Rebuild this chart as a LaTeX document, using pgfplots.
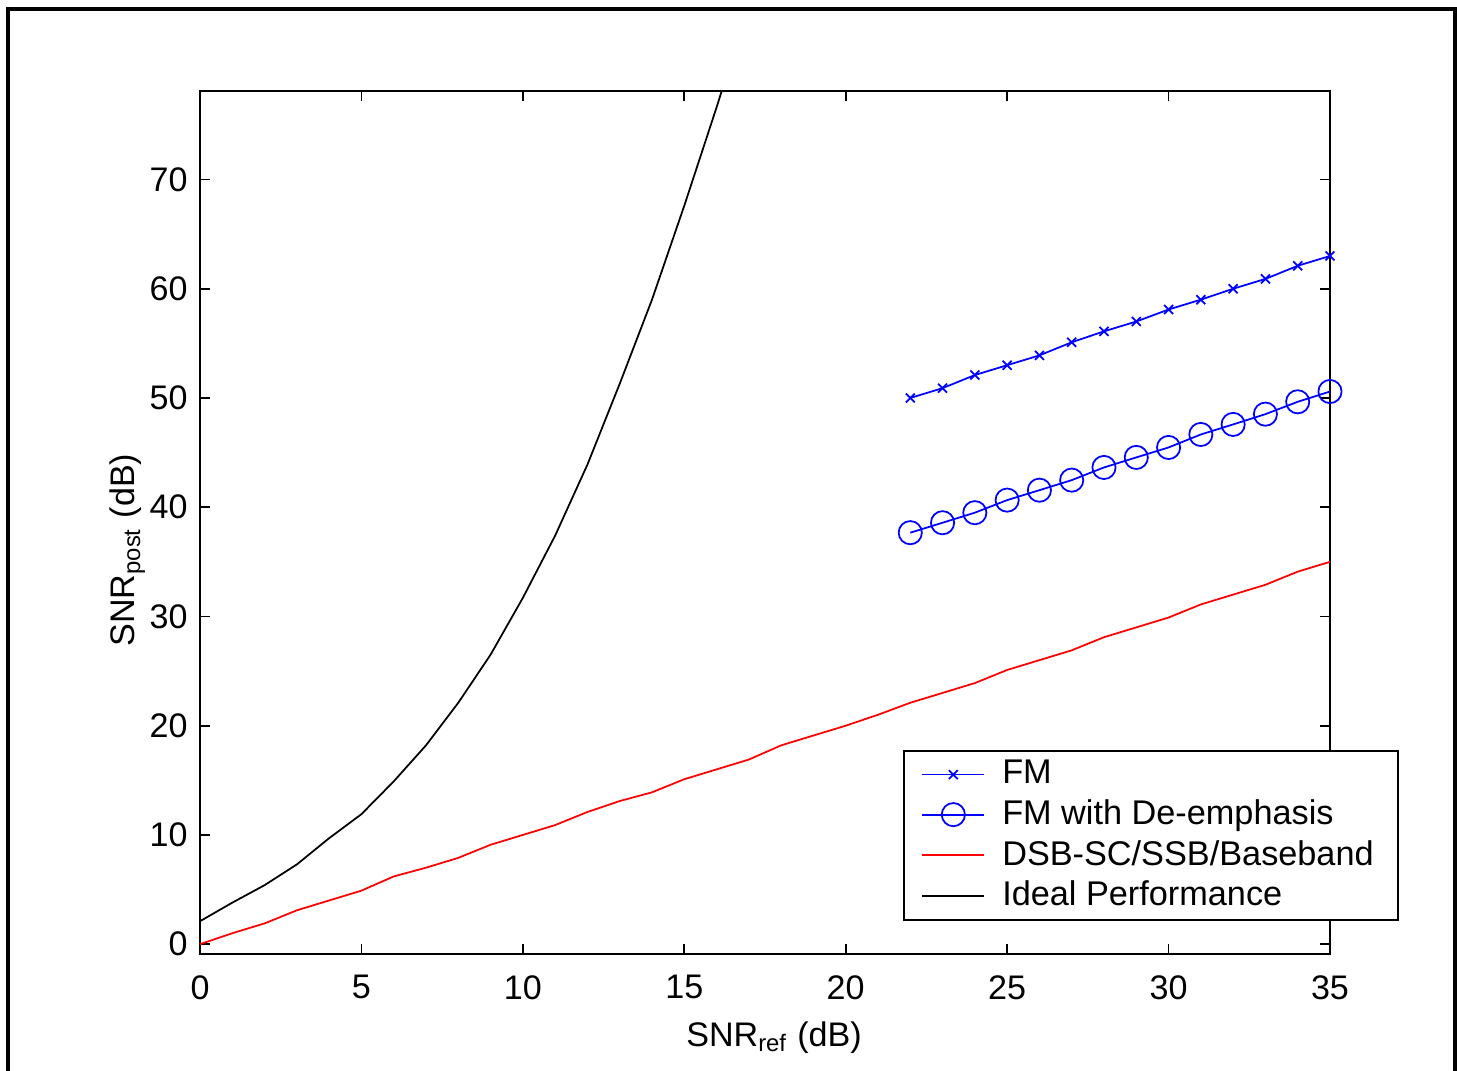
\documentclass[border=0pt]{standalone}
\usepackage{fontspec}
\setmainfont{Liberation Sans}
\usepackage{pgfplots}
\pgfplotsset{compat=1.18}
\begin{document}
\begin{tikzpicture}
\useasboundingbox (-2.00,-1.17) rectangle (12.57,9.54);
\fill[white] (-2.00,-1.17) rectangle (12.57,9.54);
\draw[line width=0.9pt] (-1.92,-1.6) -- (-1.92,9.45) -- (12.55,9.45) -- (12.55,-1.6);
\begin{axis}[
    scale only axis,
    width=11.3cm, height=8.63cm,
    xmin=0, xmax=35, ymin=-0.9, ymax=78.1,
    xtick={0,5,...,35}, ytick={0,10,...,70},
    tick align=inside, major tick length=0.1cm,
    axis line style={line width=0.6pt},
    every tick/.style={black, line width=0.5pt},
    /pgf/number format/assume math mode=true,
    ticklabel style={font=\fontsize{9.7}{11.6}\selectfont},
    xticklabel style={yshift=-2.5pt},
    label style={font=\fontsize{9.7}{11.6}\selectfont},
    xlabel={SNR\textsubscript{ref} (dB)},
    ylabel={SNR\textsubscript{post} (dB)},
    xlabel style={at={(axis description cs:0.508,-0.097)}, anchor=center},
    ylabel style={at={(axis description cs:-0.064,0.468)}, anchor=center},
    legend style={at={(0.622,0.236)}, anchor=north west, draw=black,
        line width=0.6pt, fill=white, font=\fontsize{9.75}{11.7}\selectfont,
        row sep=-1pt, inner xsep=5pt, inner ysep=0.5pt},
    legend cell align=left,
    legend image code/.code={\draw[mark repeat=2,mark phase=2,#1] plot coordinates {(0cm,0cm) (0.31cm,0cm) (0.62cm,0cm)}; \path (0.72cm,0cm);},
]
\addplot[blue, line width=0.5pt, mark=x, mark size=1.8pt, mark options={solid}] coordinates {
(22,50.0) (23,50.9) (24,52.1) (25,53.0) (26,53.9) (27,55.1) (28,56.1)
(29,57.0) (30,58.1) (31,59.0) (32,60.0) (33,60.9) (34,62.1) (35,63.0)
};
\addlegendentry{FM}
\addplot[blue, line width=0.5pt, mark=o, mark size=3.3pt, mark options={solid}] coordinates {
(22,37.67) (23,38.58) (24,39.50) (25,40.65) (26,41.56) (27,42.48) (28,43.64)
(29,44.56) (30,45.47) (31,46.66) (32,47.58) (33,48.52) (34,49.65) (35,50.59)
};
\addlegendentry{FM with De-emphasis}
\addplot[red, line width=0.5pt] coordinates {
(0,0) (1,1.0) (2,1.9) (3,3.1) (4,4.0) (5,4.9) (6,6.2) (7,7.0) (8,7.9) (9,9.1)
(10,10.0) (11,10.9) (12,12.1) (13,13.1) (14,13.9) (15,15.1) (16,16.0) (17,16.9)
(18,18.2) (19,19.1) (20,20.0) (21,21.0) (22,22.1) (23,23.0) (24,23.9) (25,25.1)
(26,26.0) (27,26.9) (28,28.1) (29,29.0) (30,29.9) (31,31.1) (32,32.0) (33,32.9)
(34,34.1) (35,35.0)
};
\addlegendentry{DSB-SC/SSB/Baseband}
\addplot[black, line width=0.5pt] coordinates {
(0,2.1) (1,3.8) (2,5.4) (3,7.3) (4,9.7) (5,11.9) (6,14.9) (7,18.2) (8,22.1)
(9,26.5) (10,31.7) (11,37.4) (12,43.9) (13,51.3) (14,59.0) (15,67.6) (16,76.6)
(17,86.0)
};
\addlegendentry{Ideal Performance}
\end{axis}
\end{tikzpicture}
\end{document}
